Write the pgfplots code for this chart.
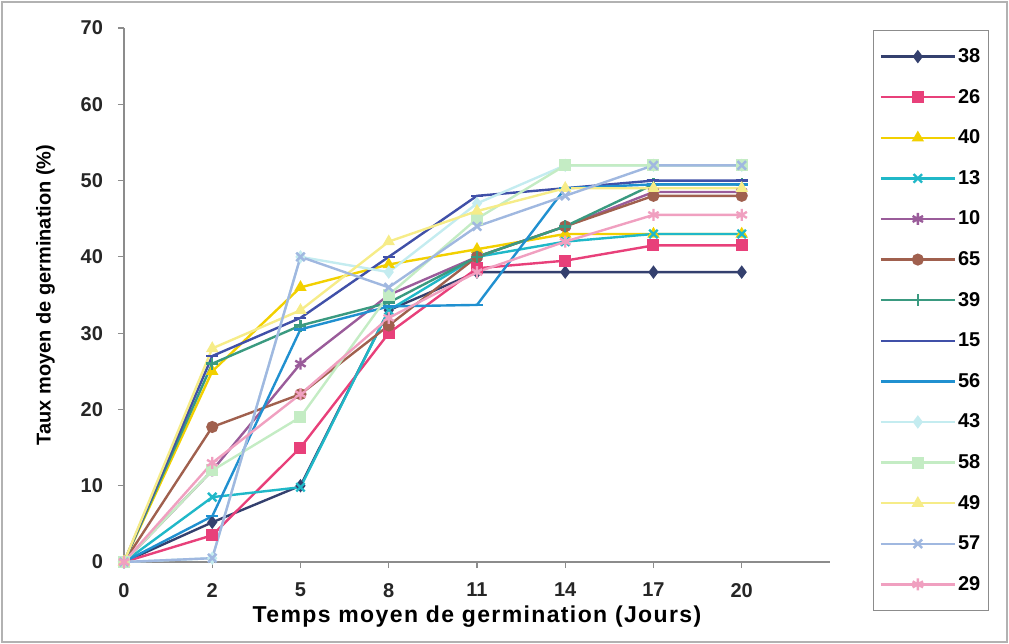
\documentclass[border=0pt]{standalone}
\usepackage{pgfplots}
\usepackage{pgfplotstable}
\pgfplotsset{compat=1.18}
\usepackage{fontspec}
\setmainfont{Liberation Sans}
\newfontfamily\spacedfont[LetterSpace=6]{Liberation Sans}

\definecolor{cA}{HTML}{34406E}
\definecolor{cB}{HTML}{E8407A}
\definecolor{cC}{HTML}{F2D000}
\definecolor{cD}{HTML}{20B8C8}
\definecolor{cE}{HTML}{9A5C9A}
\definecolor{cF}{HTML}{A0604E}
\definecolor{cG}{HTML}{3A9A80}
\definecolor{cH}{HTML}{4050A8}
\definecolor{cI}{HTML}{2090D0}
\definecolor{cJ}{HTML}{C4ECF0}
\definecolor{cK}{HTML}{C4ECC4}
\definecolor{cL}{HTML}{F6EC88}
\definecolor{cM}{HTML}{A0B8E0}
\definecolor{cN}{HTML}{F0A0C0}

\pgfplotstableread{
x  s38  s26  s40  s13  s10  s65  s39  s15  s56  s43  s58  s49  s57  s29
0  0    0    0    0    0    0    0    0    0    0    0    0    0    0
1  5.2  3.5  25   8.5  12   17.7 26   27   6    0.5  12   28   0.5  13
2  10   15   36   9.8  26   22   31   32   30.5 40   19   33   40   22
3  33   30   39   33   35   31   34   40   33.5 38   35   42   36   32
4  38   38.5 41   40   40   40   40   48   33.7 47   45   46   44   38
5  38   39.5 43   42   44   44   44   49   49   52   52   49   48   42
6  38   41.5 43   43   48.5 48   49.5 50   49.5 52   52   49   52   45.5
7  38   41.5 43   43   48.5 48   49.5 50   49.5 52   52   49   52   45.5
}\data

\begin{document}
\begin{tikzpicture}
\useasboundingbox (-62pt,-41pt) rectangle (442.5pt,281pt);
\draw[black!30, line width=0.8pt] (-61pt,-40pt) rectangle (441.5pt,280pt);
\begin{axis}[
  at={(0pt,0pt)}, anchor=south west,
  scale only axis, width=353pt, height=267pt,
  xmin=0, xmax=8, ymin=0, ymax=70,
  axis lines*=left,
  axis line style={black!45, line width=0.8pt},
  every tick/.style={black!45, line width=0.6pt},
  tick align=outside, major tick length=3pt,
  xtick={0,...,7}, xticklabels={0,2,5,8,11,14,17,20},
  ytick={0,10,...,70},
  /pgf/number format/assume math mode=true,
  ticklabel style={font=\bfseries\fontsize{10}{12}\selectfont, text=black!85},
  xticklabel style={yshift=-4pt},
  yticklabel style={xshift=-4pt},
  xlabel={Temps moyen de germination (Jours)},
  ylabel={Taux moyen de germination (\%)},
  xlabel style={font=\spacedfont\bfseries\fontsize{11.5}{13}\selectfont, yshift=2.5pt},
  ylabel style={font=\bfseries\fontsize{10}{12}\selectfont, yshift=6pt},
  every axis plot/.append style={line width=1.2pt, mark size=2.4pt, mark options={solid}},
  legend style={at={(1.061,0.9963)}, anchor=north west,
    draw=black!45, line width=0.6pt,
    font=\bfseries\fontsize{10}{12}\selectfont,
    inner xsep=3pt, inner ysep=8pt, row sep=10.3pt,
    nodes={inner sep=1pt, text height=7pt, text depth=1pt}},
  legend cell align=left,
  legend image code/.code={\draw[mark repeat=2,mark phase=2] plot coordinates {(0cm,0cm) (0.65cm,0cm) (1.3cm,0cm)};},
  clip=false,
]
\addplot[color=cA, mark=diamond*] table[x=x,y=s38]{\data};
\addlegendentry{38}
\addplot[color=cB, mark=square*] table[x=x,y=s26]{\data};
\addlegendentry{26}
\addplot[color=cC, mark=triangle*] table[x=x,y=s40]{\data};
\addlegendentry{40}
\addplot[color=cD, mark=x, mark size=3pt] table[x=x,y=s13]{\data};
\addlegendentry{13}
\addplot[color=cE, mark=asterisk, mark size=3pt] table[x=x,y=s10]{\data};
\addlegendentry{10}
\addplot[color=cF, mark=*] table[x=x,y=s65]{\data};
\addlegendentry{65}
\addplot[color=cG, mark=+, mark size=3pt] table[x=x,y=s39]{\data};
\addlegendentry{39}
\addplot[color=cH, mark=-, mark size=3pt] table[x=x,y=s15]{\data};
\addlegendentry{15}
\addplot[color=cI, mark=-, mark size=3pt] table[x=x,y=s56]{\data};
\addlegendentry{56}
\addplot[color=cJ, mark=diamond*] table[x=x,y=s43]{\data};
\addlegendentry{43}
\addplot[color=cK, mark=square*] table[x=x,y=s58]{\data};
\addlegendentry{58}
\addplot[color=cL, mark=triangle*] table[x=x,y=s49]{\data};
\addlegendentry{49}
\addplot[color=cM, mark=x, mark size=3pt] table[x=x,y=s57]{\data};
\addlegendentry{57}
\addplot[color=cN, mark=asterisk, mark size=3pt] table[x=x,y=s29]{\data};
\addlegendentry{29}
\end{axis}
\end{tikzpicture}
\end{document}
